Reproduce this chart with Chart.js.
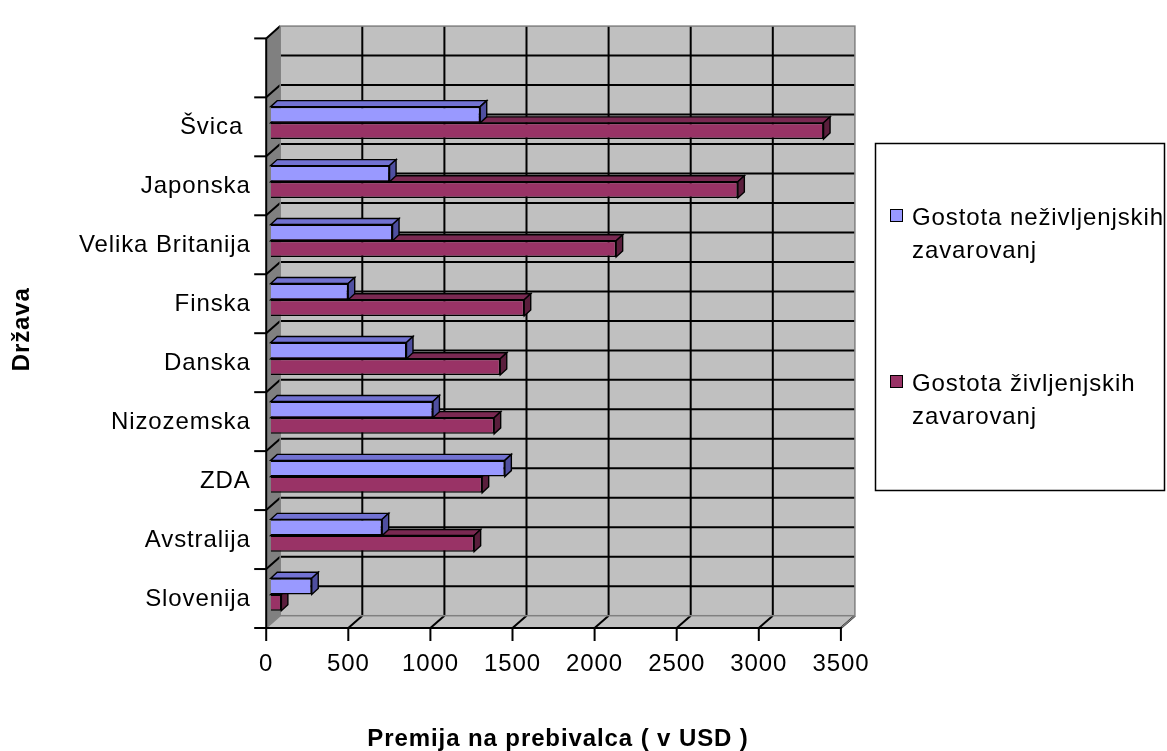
<!DOCTYPE html>
<html>
<head>
<meta charset="utf-8">
<script src="https://cdn.jsdelivr.net/npm/chart.js@4/dist/chart.umd.min.js"></script>
<style>
  html, body { margin: 0; padding: 0; background: #fff; }
  #wrap { width: 1167px; height: 751px; }
</style>
</head>
<body>
<div id="wrap"><canvas id="chart"></canvas></div>
<script>
// categories listed top to bottom (top row is an empty slot)
const categories = ['', 'Švica ', 'Japonska', 'Velika Britanija', 'Finska', 'Danska', 'Nizozemska', 'ZDA', 'Avstralija', 'Slovenija']
const nonLife = [null, 1276, 724, 742, 472, 827, 988, 1426, 679, 250]
const life = [null, 3367, 2845, 2104, 1544, 1398, 1361, 1288, 1239, 65]
const xTicks = [0, 500, 1000, 1500, 2000, 2500, 3000, 3500]
const seriesNames = ['Gostota neživljenjskih zavarovanj', 'Gostota življenjskih zavarovanj']
const legendLines = [['Gostota neživljenjskih', 'zavarovanj'], ['Gostota življenjskih', 'zavarovanj']]

const FONT = "'Liberation Sans', Arial, sans-serif"
const FRONT = { dx: -4.5, dy: 4 }
const BACK = { dx: 9.5, dy: -8.3 }
const BAR_DEPTH = { dx: 6.5, dy: -6 }
const faceColors = [
  { top: '#7272d2', side: '#4f4fa0' },
  { top: '#7a2952', side: '#5a1e3c' }
]

function poly(ctx, pts) {
  ctx.beginPath()
  ctx.moveTo(pts[0][0], pts[0][1])
  for (let i = 1; i < pts.length; i++) ctx.lineTo(pts[i][0], pts[i][1])
  ctx.closePath()
}

function line(ctx, x1, y1, x2, y2) {
  ctx.beginPath()
  ctx.moveTo(x1, y1)
  ctx.lineTo(x2, y2)
  ctx.stroke()
}

const box3d = {
  id: 'box3d',
  beforeDraw(chart) {
    chart.ctx.letterSpacing = '0.9px'
  },
  beforeDatasetsDraw(chart) {
    const { ctx, chartArea: a, scales: { x, y } } = chart
    const bl = a.left + BACK.dx, br = a.right + BACK.dx, bt = a.top + BACK.dy, bb = a.bottom + BACK.dy
    const fl = a.left + FRONT.dx, fr = a.right + FRONT.dx, ft = a.top + FRONT.dy, fb = a.bottom + FRONT.dy
    const slot = (a.bottom - a.top) / categories.length
    ctx.save()

    // walls and floor
    ctx.fillStyle = '#c0c0c0'
    ctx.fillRect(bl, bt, br - bl, bb - bt)
    ctx.fillStyle = '#808080'
    poly(ctx, [[fl, ft], [bl, bt], [bl, bb], [fl, fb]])
    ctx.fill()
    ctx.fillStyle = '#c0c0c0'
    poly(ctx, [[fl, fb], [bl, bb], [br, bb], [fr, fb]])
    ctx.fill()

    // back wall grid
    ctx.strokeStyle = '#000'
    ctx.lineWidth = 2
    for (let k = 1; k < categories.length * 2; k++) {
      const yy = bt + k * slot / 2
      line(ctx, bl, yy, br, yy)
    }
    xTicks.forEach(v => {
      const px = x.getPixelForValue(v)
      if (v > 0 && v < xTicks[xTicks.length - 1]) line(ctx, px + BACK.dx, bt, px + BACK.dx, bb)
      if (v > 0) line(ctx, px + FRONT.dx, fb, px + BACK.dx, bb)
    })
    for (let k = 0; k < categories.length; k++) {
      line(ctx, fl, ft + k * slot, bl, bt + k * slot)
    }

    // wall edges
    ctx.strokeStyle = '#808080'
    ctx.lineWidth = 1.5
    ctx.strokeRect(bl, bt, br - bl, bb - bt)
    line(ctx, fr, fb, br, bb)
    line(ctx, fl, fb, bl, bb)

    // 3D faces of the bars (lower series first, so the upper bar covers it)
    for (let d = chart.data.datasets.length - 1; d >= 0; d--) {
      const meta = chart.getDatasetMeta(d)
      meta.data.forEach((el, i) => {
        if (chart.data.datasets[d].data[i] == null) return
        const p = el.getProps(['x', 'y', 'base', 'height'], true)
        const l = Math.min(p.x, p.base), r = Math.max(p.x, p.base)
        const t = p.y - p.height / 2, b = p.y + p.height / 2
        ctx.strokeStyle = '#000'
        ctx.lineWidth = 1.4
        ctx.fillStyle = faceColors[d].top
        poly(ctx, [[l, t], [l + BAR_DEPTH.dx, t + BAR_DEPTH.dy], [r + BAR_DEPTH.dx, t + BAR_DEPTH.dy], [r, t]])
        ctx.fill(); ctx.stroke()
        ctx.fillStyle = faceColors[d].side
        poly(ctx, [[r, t], [r + BAR_DEPTH.dx, t + BAR_DEPTH.dy], [r + BAR_DEPTH.dx, b + BAR_DEPTH.dy], [r, b]])
        ctx.fill(); ctx.stroke()
      })
    }
    ctx.restore()
  },
  afterDatasetsDraw(chart) {
    const { ctx, chartArea: a, scales: { x } } = chart
    const fl = a.left + FRONT.dx, fr = a.right + FRONT.dx, ft = a.top + FRONT.dy, fb = a.bottom + FRONT.dy
    const slot = (a.bottom - a.top) / categories.length
    ctx.save()
    ctx.strokeStyle = '#000'
    ctx.lineWidth = 2
    line(ctx, fl, ft, fl, fb + 1)
    line(ctx, fl - 12, fb, fr + 1, fb)
    for (let k = 0; k < categories.length; k++) {
      line(ctx, fl - 12, ft + k * slot, fl, ft + k * slot)
    }
    xTicks.forEach(v => {
      const px = x.getPixelForValue(v) + FRONT.dx
      line(ctx, px, fb, px, fb + 13)
    })
    ctx.restore()
  },
  afterDraw(chart) {
    // legend box on the right
    const { ctx } = chart
    ctx.save()
    ctx.letterSpacing = '0.9px'
    ctx.strokeStyle = '#000'
    ctx.lineWidth = 1.5
    ctx.strokeRect(875.5, 143.5, 289, 347)
    ctx.font = '24px ' + FONT
    ctx.textBaseline = 'alphabetic'
    ctx.fillStyle = '#000'
    const tops = [209, 375]
    chart.data.datasets.forEach((ds, d) => {
      ctx.fillStyle = ds.backgroundColor
      ctx.fillRect(890, tops[d], 13, 13)
      ctx.lineWidth = 1
      ctx.strokeRect(890.5, tops[d] + 0.5, 12, 12)
      ctx.fillStyle = '#000'
      legendLines[d].forEach((txt, j) => ctx.fillText(txt, 912, tops[d] + 16 + j * 33))
    })
    ctx.restore()
  }
}

const ctx = document.getElementById('chart')

const data = {
  labels: categories,
  datasets: [{
    label: seriesNames[0],
    data: nonLife,
    backgroundColor: '#9999ff',
    borderColor: '#000',
    borderWidth: 1.5
  }, {
    label: seriesNames[1],
    data: life,
    backgroundColor: '#993366',
    borderColor: '#000',
    borderWidth: 1.5
  }]
}

const config = {
  type: 'bar',
  data: data,
  options: {
    indexAxis: 'y',
    responsive: true,
    maintainAspectRatio: false,
    animation: false,
    devicePixelRatio: 1,
    categoryPercentage: 0.55,
    barPercentage: 1,
    layout: { padding: { left: 0, right: 321.6, top: 24, bottom: 0 } },
    scales: {
      x: {
        min: 0,
        max: 3500,
        afterBuildTicks: scale => { scale.ticks = xTicks.map(v => ({ value: v })) },
        afterFit: scale => { scale.height = 127 },
        grid: { display: false, drawTicks: false },
        border: { display: false },
        ticks: { font: { family: FONT, size: 24 }, color: '#000', padding: 26, labelOffset: -4.5, maxRotation: 0, autoSkip: false, callback: v => String(v) },
        title: { display: true, text: 'Premija na prebivalca ( v USD )', font: { family: FONT, size: 24, weight: 'bold', lineHeight: 1 }, color: '#000', padding: { top: 0, bottom: 0 } }
      },
      y: {
        afterFit: scale => { scale.width = 270.7 },
        grid: { display: false, drawTicks: false },
        border: { display: false },
        ticks: { font: { family: FONT, size: 24 }, color: '#000', padding: 20, labelOffset: 5, autoSkip: false },
        title: { display: true, text: 'Država', font: { family: FONT, size: 24, weight: 'bold' }, color: '#000', padding: { top: 8, bottom: 0 } }
      }
    },
    plugins: {
      legend: { display: false },
      tooltip: { enabled: false }
    }
  },
  plugins: [box3d]
}

var myChart = new Chart(ctx, config)
</script>
</body>
</html>
